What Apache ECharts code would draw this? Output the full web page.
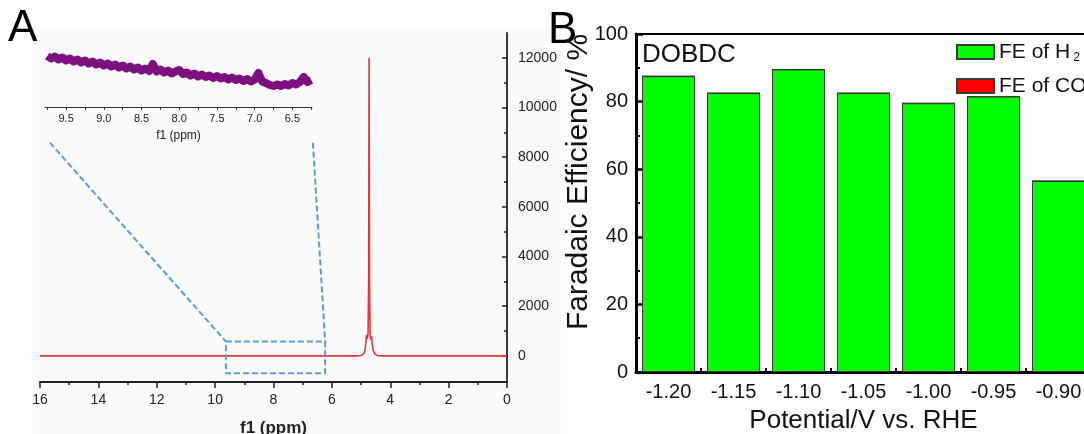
<!DOCTYPE html>
<html>
<head>
<meta charset="utf-8">
<script src="https://cdn.jsdelivr.net/npm/echarts@6/dist/echarts.min.js"></script>
<style>
html,body{margin:0;padding:0;background:#fff;}
#chart{width:1084px;height:434px;}
</style>
</head>
<body>
<div id="chart"></div>
<script>
// ---------- Panel A : 1H NMR spectrum ----------
const nmrPpm = [16, 5.2, 5.0, 4.95, 4.9, 4.86, 4.83, 4.81, 4.79, 4.76, 4.74, 4.725, 4.71, 4.69, 4.665, 4.64, 4.62, 4.58, 4.52, 4.45, 4.3, 0];
const nmrIntensity = [0, 0, 15, 40, 100, 250, 600, 850, 700, 900, 3000, 12000, 3000, 800, 650, 800, 500, 200, 70, 20, 0, 0];

const aYMajor = [0, 2000, 4000, 6000, 8000, 10000, 12000];
const aYMinor = [1000, 3000, 5000, 7000, 9000, 11000];

// zoomed region box and connector lines (ppm, intensity)
const boxPpm = [9.63, 6.23, 6.23, 9.63, 9.63];
const boxInt = [576, 576, -697, -697, 576];
const leftLinkPpm = [15.66, 9.63];
const leftLinkInt = [8584, 576];
const rightLinkPpm = [6.65, 6.23];
const rightLinkInt = [8584, 576];

// inset (6.25 - 9.75 ppm)
const insetPpm = [9.75,9.70,9.65,9.60,9.55,9.50,9.45,9.40,9.35,9.30,9.25,9.20,9.15,9.10,9.05,9.00,8.95,8.90,8.85,8.80,8.75,8.70,8.65,8.60,8.55,8.50,8.45,8.40,8.35,8.30,8.25,8.20,8.15,8.10,8.05,8.00,7.95,7.90,7.85,7.80,7.75,7.70,7.65,7.60,7.55,7.50,7.45,7.40,7.35,7.30,7.25,7.20,7.15,7.10,7.05,7.00,6.95,6.90,6.85,6.80,6.75,6.70,6.65,6.60,6.55,6.50,6.45,6.40,6.35,6.30,6.25];
const insetIntensity = [51,48.5,50.5,47.5,49.5,46.5,48.5,45.5,47.5,44.5,46.5,43.5,45.5,42.5,44.5,41.5,43.5,40.5,42.5,39.5,41.5,38.5,40.5,37.5,39.5,36.5,38.5,36,43,35.5,37.5,34.5,36.5,33.5,35.5,37,33,34.5,31.5,33.5,30.5,32.5,30,31.5,29,31,28.5,30,27.5,29.5,27,28.5,26,28,25.5,27.5,34,25.5,24,22,21,22.5,21,23,21.5,24,22.5,25,30,25,27];
const insetTickValues = [9.75,9.5,9.25,9.0,8.75,8.5,8.25,8.0,7.75,7.5,7.25,7.0,6.75,6.5,6.25];
const insetLabelValues = [9.5,9.0,8.5,8.0,7.5,7.0,6.5];

// ---------- Panel B : Faradaic efficiency ----------
const potentials = ['-1.20','-1.15','-1.10','-1.05','-1.00','-0.95','-0.90'];
const feH2 = [87.5, 82.5, 89.5, 82.5, 79.5, 81.5, 56.5];
const feCO = [0, 0, 0, 0, 0, 0, 0];

const FONT = 'Liberation Sans, Arial, Helvetica, sans-serif';
const pairs = (xs, ys) => xs.map((x, i) => [x, ys[i]]);

const chart = echarts.init(document.getElementById('chart'), null, {renderer: 'canvas'});

const option = {
  backgroundColor: '#ffffff',
  animation: false,
  textStyle: {fontFamily: FONT},
  title: [
    {text: 'A', left: 8, top: 7, padding: 0, textStyle: {fontSize: 44, fontWeight: 'normal', color: '#000', fontFamily: FONT}},
    {text: 'B', left: 548, top: 9, padding: 0, textStyle: {fontSize: 44, fontWeight: 'normal', color: '#000', fontFamily: FONT}},
    {text: 'DOBDC', left: 642, top: 42, padding: 0, textStyle: {fontSize: 26, fontWeight: 'normal', color: '#111', fontFamily: FONT}}
  ],
  graphic: [
    {type: 'rect', z: -10, shape: {x: 33, y: 30, width: 528, height: 404}, style: {fill: '#fafafa'}},
    {type: 'text', x: 579, y: 182, rotation: Math.PI / 2,
      style: {text: 'Faradaic Efficiency/ %', font: '30px ' + FONT, fill: '#111', align: 'center', verticalAlign: 'middle'}}
  ],
  legend: {
    orient: 'vertical', left: 956, top: 40, itemWidth: 37, itemHeight: 14, itemGap: 11,
    padding: 0, selectedMode: false, icon: 'rect',
    data: ['FE of H2', 'FE of CO'],
    formatter: n => n === 'FE of H2' ? 'FE of H{s|2}' : n,
    textStyle: {fontSize: 21, color: '#111', lineHeight: 22, fontFamily: FONT,
      rich: {s: {fontSize: 12, lineHeight: 12, padding: [12, 0, 0, 3], color: '#111', fontFamily: FONT}}}
  },
  grid: [
    {left: 40, top: 33, width: 467, height: 349, outerBoundsMode: 'none', containLabel: false},
    {left: 45, top: 40, width: 267, height: 67, outerBoundsMode: 'none', containLabel: false},
    {left: 636, top: 34, width: 455, height: 338, outerBoundsMode: 'none', containLabel: false,
      show: true, borderColor: '#000', borderWidth: 2, backgroundColor: 'transparent'}
  ],
  xAxis: [
    {gridIndex: 0, type: 'value', min: 0, max: 16, interval: 2, inverse: true,
      axisLine: {show: true, onZero: false, lineStyle: {color: '#222', width: 2}},
      axisTick: {show: true, inside: false, length: 6, lineStyle: {color: '#222', width: 1.5}},
      minorTick: {show: true, splitNumber: 2, length: 3, lineStyle: {color: '#222', width: 1.5}},
      axisLabel: {fontSize: 14, color: '#222', margin: 11, fontFamily: FONT, formatter: v => String(v)},
      splitLine: {show: false},
      name: 'f1 (ppm)', nameLocation: 'middle', nameGap: 38,
      nameTextStyle: {fontSize: 17, fontWeight: 'bold', color: '#222', fontFamily: FONT}},
    {gridIndex: 1, type: 'value', min: 6.24, max: 9.78, inverse: true,
      axisLine: {show: true, onZero: false, lineStyle: {color: '#333', width: 1}},
      axisTick: {show: true, inside: false, length: 3, customValues: insetTickValues, lineStyle: {color: '#333', width: 1}},
      axisLabel: {fontSize: 11, color: '#222', margin: 6, customValues: insetLabelValues,
        formatter: v => Number(v).toFixed(1), fontFamily: FONT},
      splitLine: {show: false},
      name: 'f1 (ppm)', nameLocation: 'middle', nameGap: 23,
      nameTextStyle: {fontSize: 12, color: '#222', fontFamily: FONT}},
    {gridIndex: 2, type: 'category', data: potentials, boundaryGap: true, position: 'bottom',
      axisLine: {show: true, onZero: false, lineStyle: {color: '#000', width: 3}},
      axisTick: {show: true, inside: true, alignWithLabel: true, length: 9, lineStyle: {color: '#000', width: 2.5}},
      axisLabel: {fontSize: 20, color: '#111', margin: 10, fontFamily: FONT},
      name: 'Potential/V vs. RHE', nameLocation: 'middle', nameGap: 36,
      nameTextStyle: {fontSize: 26, color: '#111', fontFamily: FONT}},
    {gridIndex: 2, type: 'category', data: potentials, boundaryGap: true, position: 'bottom',
      axisLine: {show: false, onZero: false},
      axisTick: {show: true, inside: true, alignWithLabel: false, length: 4, lineStyle: {color: '#000', width: 2}},
      axisLabel: {show: false}}
  ],
  yAxis: [
    {gridIndex: 0, type: 'value', position: 'right', min: -1050, max: 13000,
      axisLine: {show: true, onZero: false, lineStyle: {color: '#222', width: 1.8}},
      axisTick: {show: true, inside: true, length: 5, customValues: aYMajor, lineStyle: {color: '#222', width: 1.5}},
      axisLabel: {fontSize: 14, color: '#222', margin: 11, customValues: aYMajor, fontFamily: FONT, formatter: v => String(v)},
      splitLine: {show: false}},
    {gridIndex: 0, type: 'value', position: 'right', min: -1050, max: 13000,
      axisLine: {show: false, onZero: false},
      axisTick: {show: true, inside: true, length: 3, customValues: aYMinor, lineStyle: {color: '#222', width: 1.5}},
      axisLabel: {show: false}, splitLine: {show: false}},
    {gridIndex: 1, type: 'value', min: 0, max: 67, show: false, splitLine: {show: false}},
    {gridIndex: 2, type: 'value', position: 'left', min: 0, max: 100, interval: 20,
      axisLine: {show: true, onZero: false, lineStyle: {color: '#000', width: 3}},
      axisTick: {show: true, inside: true, length: 7, lineStyle: {color: '#000', width: 2.5}},
      minorTick: {show: true, splitNumber: 2, length: 4, lineStyle: {color: '#000', width: 2}},
      axisLabel: {fontSize: 20, color: '#111', margin: 8, fontFamily: FONT},
      splitLine: {show: false}}
  ],
  series: [
    {type: 'line', name: 'NMR', xAxisIndex: 0, yAxisIndex: 0, data: pairs(nmrPpm, nmrIntensity),
      symbol: 'none', lineStyle: {color: '#e5343a', width: 1.6}, z: 3},
    {type: 'line', name: 'box', xAxisIndex: 0, yAxisIndex: 0, data: pairs(boxPpm, boxInt),
      symbol: 'none', lineStyle: {color: '#5b9bd8', width: 2, type: [6, 3]}, z: 4},
    {type: 'line', name: 'linkL', xAxisIndex: 0, yAxisIndex: 0, data: pairs(leftLinkPpm, leftLinkInt),
      symbol: 'none', lineStyle: {color: '#5b9bd8', width: 2, type: [6, 3]}, z: 4},
    {type: 'line', name: 'linkR', xAxisIndex: 0, yAxisIndex: 0, data: pairs(rightLinkPpm, rightLinkInt),
      symbol: 'none', lineStyle: {color: '#5b9bd8', width: 2, type: [6, 3]}, z: 4},
    {type: 'line', name: 'inset', xAxisIndex: 1, yAxisIndex: 2, data: pairs(insetPpm, insetIntensity),
      symbol: 'none', lineStyle: {color: '#7c107e', width: 8, join: 'round'}, z: 5},
    {type: 'bar', name: 'FE of H2', xAxisIndex: 2, yAxisIndex: 3, stack: 'fe', data: feH2, barWidth: 53,
      itemStyle: {color: '#00ff00', borderColor: '#3a3a3a', borderWidth: 1}},
    {type: 'bar', name: 'FE of CO', xAxisIndex: 2, yAxisIndex: 3, stack: 'fe', data: feCO, barWidth: 53,
      itemStyle: {color: '#ff0000', borderColor: '#3a3a3a', borderWidth: 1}}
  ]
};
chart.setOption(option);
</script>
</body>
</html>
